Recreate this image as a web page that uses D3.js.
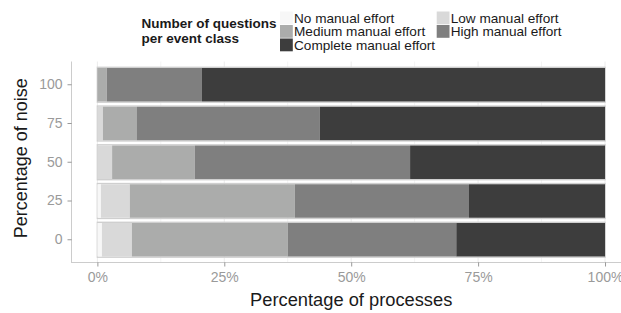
<!DOCTYPE html>
<html>
<head>
<meta charset="utf-8">
<script src="https://cdn.jsdelivr.net/npm/d3@7"></script>
<style>
  body { margin: 0; background: #fff; }
  svg { display: block; font-family: "Liberation Sans", Arial, sans-serif; }
</style>
</head>
<body>
<div id="chart"></div>
<script>
// chart size
var width = 621
var height = 313

// data (percent of processes per noise level)
var noise = ["0", "25", "50", "75", "100"]
var classes = ["No manual effort", "Low manual effort", "Medium manual effort", "High manual effort", "Complete manual effort"]
var colors = ["#f7f7f7", "#d9d9d9", "#abacab", "#7f7f7f", "#3d3d3d"]
var noneEffort     = [0.9, 0.7, 0, 0, 0]
var lowEffort      = [5.9, 5.7, 2.9, 1.1, 0]
var mediumEffort   = [30.7, 32.5, 16.3, 6.7, 1.85]
var highEffort     = [33.2, 34.3, 42.4, 36.0, 18.75]
var completeEffort = [29.3, 26.8, 38.4, 56.2, 79.4]
var xTicks = [0, 25, 50, 75, 100]

var series = [noneEffort, lowEffort, mediumEffort, highEffort, completeEffort]

// rows for stacking
var rows = noise.map(function(n, i) {
  var r = { noise: n }
  classes.forEach(function(c, j) { r[c] = series[j][i] })
  return r
})
var stacked = d3.stack().keys(classes)(rows)

var svg = d3.select("#chart")
  .append("svg")
  .attr("width", width)
  .attr("height", height)

// panel (extends a bit past the right edge, like the original)
var panel = { left: 72, right: 630.4, top: 61.5, bottom: 263 }

var x = d3.scaleLinear()
  .domain([-5, 105])
  .range([panel.left, panel.right])

var y = d3.scaleBand()
  .domain(noise)
  .range([panel.bottom, panel.top])
  .paddingInner(0.1)
  .paddingOuter(0.15)

// grid lines (major + minor)
var gridVals = d3.range(0, 101, 12.5)
svg.append("g")
  .selectAll("line")
  .data(gridVals)
  .enter()
  .append("line")
  .attr("x1", function(d) { return x(d) })
  .attr("x2", function(d) { return x(d) })
  .attr("y1", panel.top)
  .attr("y2", panel.bottom)
  .attr("stroke", function(d) { return d % 25 == 0 ? "#ececec" : "#f4f4f4" })
  .attr("stroke-width", 1)

// bar outlines
svg.append("g")
  .selectAll("rect")
  .data(noise)
  .enter()
  .append("rect")
  .attr("x", x(0))
  .attr("y", function(d) { return y(d) })
  .attr("width", x(100) - x(0))
  .attr("height", y.bandwidth())
  .attr("fill", "none")
  .attr("stroke", "#cfcfcf")
  .attr("stroke-width", 1.4)

// stacked segments
svg.append("g")
  .selectAll("g")
  .data(stacked)
  .enter()
  .append("g")
  .attr("fill", function(d, i) { return colors[i] })
  .selectAll("rect")
  .data(function(d) { return d })
  .enter()
  .append("rect")
  .attr("x", function(d) { return x(d[0]) })
  .attr("y", function(d) { return y(d.data.noise) + 0.7 })
  .attr("width", function(d) { return Math.max(0, x(d[1]) - x(d[0])) })
  .attr("height", y.bandwidth() - 1.4)

// axes
var axisColor = "#cccccc"
var tickTextColor = "#9a9a9a"

var xAxis = svg.append("g")
  .attr("transform", "translate(0," + (panel.bottom - 0.5) + ")")
  .call(d3.axisBottom(x).tickValues(xTicks).tickSize(4).tickPadding(6)
        .tickFormat(function(d) { return d + "%" }))
xAxis.select(".domain").attr("stroke", axisColor).attr("d", "M" + panel.left + ",0H" + width)
xAxis.selectAll(".tick line").attr("stroke", "#555").attr("stroke-opacity", 0.6)
xAxis.selectAll("text").attr("fill", tickTextColor).attr("font-size", "14px")
  .attr("font-family", "Liberation Sans, Arial, sans-serif")

var yAxis = svg.append("g")
  .attr("transform", "translate(" + (panel.left - 0.5) + ",0)")
  .call(d3.axisLeft(y).tickSize(4).tickPadding(5))
yAxis.select(".domain").attr("stroke", axisColor).attr("d", "M0," + panel.top + "V" + panel.bottom)
yAxis.selectAll(".tick line").attr("stroke", "#555").attr("stroke-opacity", 0.6)
yAxis.selectAll("text").attr("fill", tickTextColor).attr("font-size", "14px")
  .attr("font-family", "Liberation Sans, Arial, sans-serif")

// axis titles
svg.append("text")
  .attr("x", (panel.left + panel.right) / 2)
  .attr("y", 306)
  .attr("text-anchor", "middle")
  .attr("font-size", "18.3px")
  .attr("fill", "#1a1a1a")
  .text("Percentage of processes")

svg.append("text")
  .attr("transform", "translate(27," + ((panel.top + panel.bottom) / 2 - 4) + ") rotate(-90)")
  .attr("text-anchor", "middle")
  .attr("font-size", "18px")
  .attr("fill", "#1a1a1a")
  .text("Percentage of noise")

// legend
var legend = svg.append("g")
legend.append("text")
  .attr("x", 141.5)
  .attr("y", 28.3)
  .attr("font-size", "13.5px")
  .attr("font-weight", "bold")
  .attr("fill", "#1a1a1a")
  .text("Number of questions")
legend.append("text")
  .attr("x", 141.5)
  .attr("y", 43.3)
  .attr("font-size", "13.5px")
  .attr("font-weight", "bold")
  .attr("fill", "#1a1a1a")
  .text("per event class")

var legendPos = [[280, 11.5], [436.7, 11.5], [280, 25], [436.7, 25], [280, 38.5]]
var items = legend.selectAll("g.item")
  .data(classes)
  .enter()
  .append("g")
  .attr("class", "item")
  .attr("transform", function(d, i) { return "translate(" + legendPos[i][0] + "," + legendPos[i][1] + ")" })
items.append("rect")
  .attr("width", 12.8)
  .attr("height", 12.8)
  .attr("fill", function(d, i) { return colors[i] })
items.append("text")
  .attr("x", 14)
  .attr("y", 11)
  .attr("font-size", "13.6px")
  .attr("fill", "#1a1a1a")
  .text(function(d) { return d })
</script>
</body>
</html>
